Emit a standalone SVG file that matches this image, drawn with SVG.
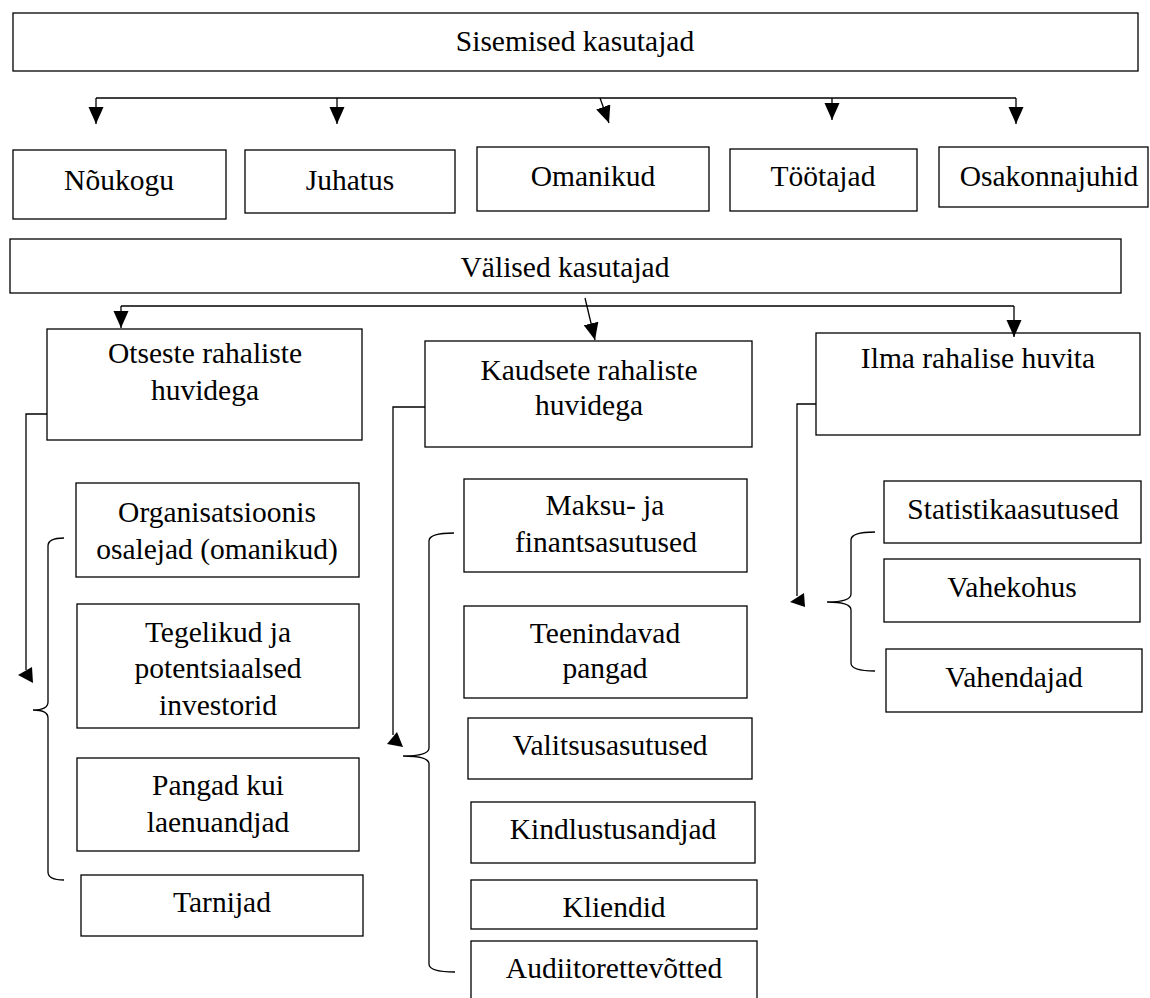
<svg xmlns="http://www.w3.org/2000/svg" width="1150" height="998" viewBox="0 0 1150 998">
<style>
rect{fill:#fff;stroke:#000;stroke-width:1.3}
text{font-family:"Liberation Serif","Times New Roman",serif;font-size:29.5px;fill:#000;text-anchor:middle}
.c{fill:none;stroke:#000;stroke-width:1.3}
.h{fill:#000;stroke:none}
</style>
<defs>
<marker id="ah" markerUnits="userSpaceOnUse" markerWidth="18" markerHeight="16" refX="17" refY="7.5" orient="auto">
<path d="M0,0 L17,7.5 L0,15 z" fill="#000"/>
</marker>
</defs>
<rect x="0" y="0" width="1150" height="998" style="stroke:none"/>

<g id="n-sisemised"><rect x="13" y="13" width="1125" height="58"/><text x="575" y="51">Sisemised kasutajad</text></g>
<g id="n-noukogu"><rect x="13" y="150" width="213" height="69"/><text x="119" y="190">Nõukogu</text></g>
<g id="n-juhatus"><rect x="245" y="150" width="210" height="63"/><text x="350" y="190">Juhatus</text></g>
<g id="n-omanikud"><rect x="477" y="147" width="232" height="64"/><text x="593" y="186">Omanikud</text></g>
<g id="n-tootajad"><rect x="730" y="149" width="187" height="62"/><text x="823" y="186">Töötajad</text></g>
<g id="n-osakonnajuhid"><rect x="939" y="147" width="209" height="60"/><text x="1049" y="186">Osakonnajuhid</text></g>

<g id="n-valised"><rect x="10" y="239" width="1111" height="54"/><text x="565" y="277">Välised kasutajad</text></g>
<g id="n-otseste"><rect x="47" y="329" width="315" height="111"/><text x="205" y="363">Otseste rahaliste</text><text x="205" y="400">huvidega</text></g>
<g id="n-kaudsete"><rect x="425" y="341" width="327" height="106"/><text x="589" y="380">Kaudsete rahaliste</text><text x="589" y="415">huvidega</text></g>
<g id="n-ilma"><rect x="816" y="333" width="324" height="102"/><text x="978" y="368">Ilma rahalise huvita</text></g>

<g id="n-organisatsioonis"><rect x="76" y="483" width="283" height="94"/><text x="217" y="522">Organisatsioonis</text><text x="217" y="559">osalejad (omanikud)</text></g>
<g id="n-tegelikud"><rect x="77" y="604" width="282" height="124"/><text x="218" y="642">Tegelikud ja</text><text x="218" y="678">potentsiaalsed</text><text x="218" y="715">investorid</text></g>
<g id="n-pangad"><rect x="77" y="758" width="282" height="93"/><text x="218" y="795">Pangad kui</text><text x="218" y="832">laenuandjad</text></g>
<g id="n-tarnijad"><rect x="81" y="875" width="282" height="61"/><text x="222" y="912">Tarnijad</text></g>

<g id="n-maksu"><rect x="464" y="479" width="283" height="93"/><text x="605" y="515">Maksu- ja</text><text x="606" y="552">finantsasutused</text></g>
<g id="n-teenindavad"><rect x="464" y="606" width="283" height="92"/><text x="605" y="643">Teenindavad</text><text x="605" y="678">pangad</text></g>
<g id="n-valitsus"><rect x="468" y="718" width="284" height="61"/><text x="610" y="755">Valitsusasutused</text></g>
<g id="n-kindlus"><rect x="471" y="802" width="284" height="61"/><text x="613" y="839">Kindlustusandjad</text></g>
<g id="n-kliendid"><rect x="471" y="880" width="286" height="49"/><text x="614" y="917">Kliendid</text></g>
<g id="n-audiitor"><rect x="471" y="941" width="286" height="60"/><text x="614" y="978">Audiitorettevõtted</text></g>

<g id="n-statistika"><rect x="884" y="481" width="257" height="62"/><text x="1013" y="519">Statistikaasutused</text></g>
<g id="n-vahekohus"><rect x="884" y="559" width="256" height="63"/><text x="1012" y="597">Vahekohus</text></g>
<g id="n-vahendajad"><rect x="886" y="649" width="256" height="63"/><text x="1014" y="687">Vahendajad</text></g>

<g id="connectors">
<path class="c" d="M96,98 L1016,98"/>
<line class="c" x1="96" y1="98" x2="96" y2="124" marker-end="url(#ah)"/>
<line class="c" x1="337" y1="98" x2="337" y2="124" marker-end="url(#ah)"/>
<line class="c" x1="600" y1="98" x2="609" y2="123" marker-end="url(#ah)"/>
<line class="c" x1="832" y1="98" x2="832" y2="120" marker-end="url(#ah)"/>
<line class="c" x1="1016" y1="98" x2="1016" y2="124" marker-end="url(#ah)"/>

<path class="c" d="M121,306 L1014,306"/>
<line class="c" x1="121" y1="306" x2="121" y2="328" marker-end="url(#ah)"/>
<line class="c" x1="585" y1="298" x2="595" y2="340" marker-end="url(#ah)"/>
<line class="c" x1="1014" y1="306" x2="1014" y2="337" marker-end="url(#ah)"/>

<path class="c" d="M47,414 L26,414 L26,670"/>
<polygon class="h" points="18,675 32,667 33,683"/>
<path class="c" d="M425,407 L393,407 L393,735"/>
<polygon class="h" points="387,744 397,732 403,747"/>
<path class="c" d="M816,404 L797,404 L797,596"/>
<polygon class="h" points="790,602 804,593 805,607"/>

<path class="c" d="M64,538 Q48,538 48,546 L48,702 Q48,710 33,710 Q48,710 48,718 L48,872 Q48,880 64,880"/>
<path class="c" d="M454,533 Q429,533 429,541 L429,748 Q429,756 403,756 Q429,756 429,764 L429,964 Q429,972 455,972"/>
<path class="c" d="M875,532 Q851,532 851,540 L851,594 Q851,602 827,602 Q851,602 851,610 L851,663 Q851,671 875,671"/>
</g>
</svg>
